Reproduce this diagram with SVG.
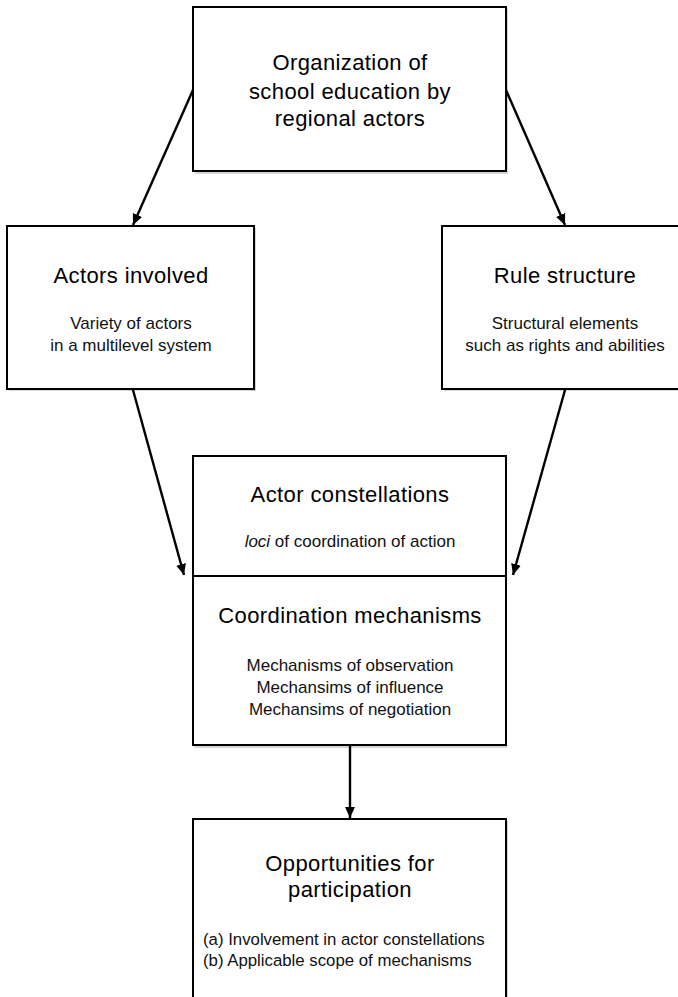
<svg xmlns="http://www.w3.org/2000/svg" width="678" height="997" viewBox="0 0 678 997">
<defs>
<marker id="ah" viewBox="0 0 10 10" refX="10" refY="5" markerWidth="11" markerHeight="11" markerUnits="userSpaceOnUse" orient="auto">
<path d="M0,0.5 L10,5 L0,9.5 z" fill="#000"/>
</marker>
</defs>
<style>
.box{fill:#fff;stroke:#000;stroke-width:2}
.shadow{fill:#bbb;opacity:0.6}
.t{font-family:"Liberation Sans",Arial,sans-serif;font-size:22px;letter-spacing:0.4px;fill:#000;text-anchor:middle}
.s{font-family:"Liberation Sans",Arial,sans-serif;font-size:17px;fill:#111;text-anchor:middle}
.l{font-family:"Liberation Sans",Arial,sans-serif;font-size:16.8px;fill:#111}
.c{stroke:#000;stroke-width:2.4;fill:none;marker-end:url(#ah)}
</style>
<rect width="678" height="997" fill="#fff"/>
<g id="top">
<rect class="shadow" x="195" y="9" width="313" height="165"/>
<rect class="box" x="193" y="7" width="313" height="164"/>
<text class="t" x="350" y="70">Organization of</text>
<text class="t" x="350" y="99">school education by</text>
<text class="t" x="350" y="126">regional actors</text>
</g>
<g id="actors">
<rect class="shadow" x="9" y="228" width="247" height="163"/>
<rect class="box" x="7" y="226" width="247" height="163"/>
<text class="t" x="131" y="283">Actors involved</text>
<text class="s" x="131" y="329">Variety of actors</text>
<text class="s" x="131" y="351">in a multilevel system</text>
</g>
<g id="rules">
<rect class="shadow" x="444" y="228" width="250" height="163"/>
<rect class="box" x="442" y="226" width="250" height="163"/>
<text class="t" x="565" y="283">Rule structure</text>
<text class="s" x="565" y="329">Structural elements</text>
<text class="s" x="565" y="351">such as rights and abilities</text>
</g>
<g id="middle">
<rect class="shadow" x="194" y="458" width="313" height="290"/>
<rect class="box" x="193" y="456" width="313" height="289"/>
<line x1="193" y1="576" x2="506" y2="576" stroke="#000" stroke-width="2"/>
<text class="t" x="350" y="502">Actor constellations</text>
<text class="s" x="350" y="547"><tspan font-style="italic">loci</tspan> of coordination of action</text>
<text class="t" x="350" y="623">Coordination mechanisms</text>
<text class="s" x="350" y="671">Mechanisms of observation</text>
<text class="s" x="350" y="693">Mechansims of influence</text>
<text class="s" x="350" y="715">Mechansims of negotiation</text>
</g>
<g id="bottom">
<rect class="shadow" x="195" y="821" width="313" height="190"/>
<rect class="box" x="193" y="819" width="313" height="190"/>
<text class="t" x="350" y="871">Opportunities for</text>
<text class="t" x="350" y="897">participation</text>
<text class="l" x="203" y="945">(a) Involvement in actor constellations</text>
<text class="l" x="203" y="966">(b) Applicable scope of mechanisms</text>
</g>
<g id="connectors">
<line class="c" x1="193" y1="90" x2="133" y2="225"/>
<line class="c" x1="506" y1="90" x2="565" y2="225"/>
<line class="c" x1="133" y1="390" x2="184" y2="575"/>
<line class="c" x1="565" y1="390" x2="513" y2="575"/>
<line class="c" x1="350" y1="745" x2="350" y2="818"/>
</g>
</svg>
